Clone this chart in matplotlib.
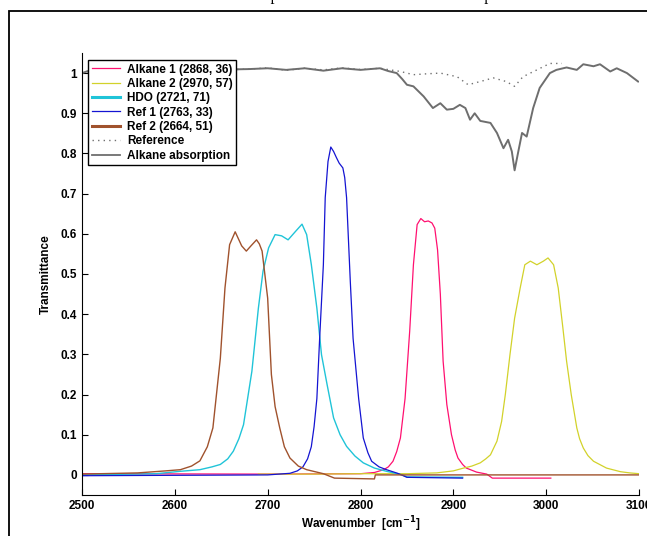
import matplotlib
matplotlib.use("Agg")
import matplotlib.pyplot as plt
from matplotlib.patches import Rectangle

# Alkane 1 filter
wn_alk1 = [2500, 2700, 2800, 2815, 2825, 2830, 2835, 2839, 2843, 2848, 2853, 2857, 2861, 2865, 2869, 2873, 2877,
           2880, 2883, 2886, 2889, 2893, 2898, 2902, 2905, 2910, 2914, 2925, 2936, 2942, 3005]
t_alk1 = [0.003, 0.002, 0.003, 0.006, 0.013, 0.02, 0.034, 0.058, 0.092, 0.19, 0.358, 0.523, 0.623, 0.638, 0.630,
          0.632, 0.627, 0.614, 0.56, 0.45, 0.283, 0.175, 0.10, 0.062, 0.042, 0.026, 0.017, 0.007, 0.002, -0.008,
          -0.008]

# Alkane 2 filter
wn_alk2 = [2690, 2750, 2800, 2850, 2882, 2900, 2911, 2920, 2929, 2935, 2940, 2947, 2952, 2956, 2961, 2966, 2972,
           2977, 2983, 2990, 2997, 3002, 3008, 3013, 3018, 3022, 3027, 3033, 3036, 3040, 3045, 3051, 3065, 3080,
           3090, 3100]
t_alk2 = [0.002, 0.002, 0.003, 0.003, 0.005, 0.01, 0.017, 0.022, 0.03, 0.04, 0.05, 0.084, 0.133, 0.2, 0.299, 0.39,
          0.465, 0.523, 0.532, 0.523, 0.532, 0.54, 0.523, 0.465, 0.366, 0.283, 0.2, 0.117, 0.09, 0.067, 0.048, 0.034,
          0.017, 0.008, 0.005, 0.003]

# HDO filter
wn_hdo = [2500, 2580, 2606, 2627, 2640, 2649, 2657, 2663, 2669, 2674, 2683, 2690, 2695, 2701, 2708, 2715, 2722,
          2730, 2737, 2742, 2747, 2753, 2758, 2764, 2771, 2778, 2785, 2794, 2803, 2815, 2828, 2845, 2850, 2910]
t_hdo = [0.0, 0.003, 0.009, 0.013, 0.02, 0.026, 0.04, 0.059, 0.09, 0.125, 0.258, 0.415, 0.507, 0.565, 0.598, 0.595,
         0.585, 0.606, 0.624, 0.598, 0.524, 0.415, 0.299, 0.225, 0.142, 0.1, 0.071, 0.047, 0.030, 0.017, 0.009, 0.0,
         -0.005, -0.006]

# Ref 1 filter
wn_ref1 = [2500, 2700, 2724, 2732, 2738, 2743, 2747, 2750, 2753, 2756, 2760, 2762, 2765, 2768, 2771, 2774, 2777,
           2781, 2783, 2785, 2789, 2792, 2798, 2803, 2808, 2812, 2820, 2828, 2840, 2850, 2910]
t_ref1 = [-0.002, 0.0, 0.004, 0.01, 0.02, 0.04, 0.07, 0.12, 0.19, 0.34, 0.523, 0.69, 0.78, 0.816, 0.805, 0.79,
          0.776, 0.764, 0.74, 0.69, 0.482, 0.34, 0.19, 0.092, 0.055, 0.034, 0.02, 0.013, 0.004, -0.006, -0.008]

# Ref 2 filter
wn_ref2 = [2500, 2560, 2590, 2606, 2618, 2627, 2635, 2641, 2649, 2654, 2659, 2665, 2668, 2672, 2677, 2682, 2688,
           2691, 2694, 2700, 2704, 2708, 2713, 2718, 2724, 2733, 2742, 2760, 2772, 2815, 2816, 3100]
t_ref2 = [0.002, 0.005, 0.01, 0.013, 0.022, 0.035, 0.07, 0.117, 0.29, 0.465, 0.573, 0.605, 0.59, 0.57, 0.557, 0.57,
          0.585, 0.575, 0.557, 0.44, 0.25, 0.17, 0.117, 0.07, 0.042, 0.022, 0.013, 0.003, -0.008, -0.01, 0.0, 0.0]

# reference spectrum (dotted)
wn_refspec = [2500, 2520, 2540, 2680, 2700, 2720, 2740, 2760, 2780, 2800, 2821, 2843, 2857, 2870, 2886,
              2904, 2916, 2929, 2943, 2957, 2966, 2975, 2990, 3004, 3017]
t_refspec = [1.0, 1.006, 1.0, 1.01, 1.013, 1.007, 1.012, 1.008, 1.013, 1.009, 1.012, 1.004, 0.996, 0.998, 1.0,
             0.991, 0.971, 0.979, 0.988, 0.979, 0.967, 0.991, 1.008, 1.024, 1.024]

# alkane absorption spectrum (solid)
wn_abs = [2500, 2510, 2520, 2680, 2700, 2720, 2740, 2760, 2780, 2800, 2821, 2830, 2839, 2845, 2850, 2857,
          2868, 2878, 2886, 2893, 2900, 2907, 2913, 2918, 2923, 2929, 2940, 2947, 2954, 2959, 2963, 2966,
          2970, 2974, 2979, 2986, 2993, 3004, 3011, 3022, 3033, 3040, 3051, 3058, 3069, 3076, 3087, 3099]
t_abs = [1.0, 1.008, 1.003, 1.01, 1.012, 1.008, 1.012, 1.006, 1.012, 1.008, 1.012, 1.005, 1.0, 0.985, 0.971, 0.967,
         0.942, 0.913, 0.925, 0.909, 0.911, 0.921, 0.913, 0.884, 0.9, 0.881, 0.876, 0.851, 0.813, 0.834, 0.805, 0.758,
         0.805, 0.851, 0.842, 0.913, 0.963, 1.0, 1.008, 1.014, 1.008, 1.022, 1.017, 1.022, 1.004, 1.012, 1.0, 0.979]

xticks = [2500, 2600, 2700, 2800, 2900, 3000, 3100]
yticks = [0, 0.1, 0.2, 0.3, 0.4, 0.5, 0.6, 0.7, 0.8, 0.9, 1]
ytick_labels = ['0', '0.1', '0.2', '0.3', '0.4', '0.5', '0.6', '0.7', '0.8', '0.9', '1']

plt.rcParams['font.family'] = ['Liberation Sans', 'DejaVu Sans']
plt.rcParams['font.weight'] = 'bold'
plt.rcParams['axes.labelweight'] = 'bold'
plt.rcParams['mathtext.default'] = 'bf'

fig = plt.figure(figsize=(6.47, 5.36), dpi=100)
ax = fig.add_axes([82/647, 1 - 495/536, (639 - 82)/647, (495 - 53)/536])

ax.plot(wn_alk1, t_alk1, color='#ff1070', lw=0.9, label='Alkane 1 (2868, 36)')
ax.plot(wn_alk2, t_alk2, color='#d2d22a', lw=0.9, label='Alkane 2 (2970, 57)')
ax.plot(wn_hdo, t_hdo, color='#20c4d8', lw=1.0, label='HDO (2721, 71)')
ax.plot(wn_ref1, t_ref1, color='#1414d2', lw=0.9, label='Ref 1 (2763, 33)')
ax.plot(wn_ref2, t_ref2, color='#a0522d', lw=1.0, label='Ref 2 (2664, 51)')
ax.plot(wn_refspec, t_refspec, color='#707070', lw=1.0, ls=(0, (1, 3)), label='Reference')
ax.plot(wn_abs, t_abs, color='#6e6e6e', lw=1.4, label='Alkane absorption')

ax.set_xlim(2500, 3100)
ax.set_ylim(-0.05, 1.05)
ax.set_xticks(xticks)
ax.set_yticks(yticks)
ax.set_yticklabels(ytick_labels)
ax.tick_params(direction='in', length=4, labelsize=8.5, width=0.8)
ax.spines['top'].set_visible(False)
ax.spines['right'].set_visible(False)
ax.set_xlabel('Wavenumber  [cm$^{-1}$]', fontsize=8.5, labelpad=2)
ax.set_ylabel('Transmittance', fontsize=8.5, labelpad=6)

leg = ax.legend(loc='upper left', bbox_to_anchor=(88/647, 1 - 60/536), bbox_transform=fig.transFigure,
                fontsize=8.5, frameon=True, fancybox=False, framealpha=1, edgecolor='black',
                borderaxespad=0, handlelength=2.4, labelspacing=0.2, borderpad=0.3, handletextpad=0.6)
leg.get_frame().set_linewidth(1.0)
for h, w in zip(leg.get_lines(), [0.9, 0.9, 2.2, 0.9, 2.2, 1.0, 1.3]):
    h.set_linewidth(w)

# outer frame and the clipped title above
fig.add_artist(Rectangle((9/647, -0.2), 1.2, 1.2 - 11/536, transform=fig.transFigure,
                         fill=False, lw=1.3, edgecolor='black', clip_on=False))
fig.text(0.534, 1.0, 'Transmission spectra of filters and alkane absorption', ha='center', va='baseline',
         fontsize=11.7, family='Liberation Serif', weight='normal')

fig.savefig('out.png', dpi=100)
